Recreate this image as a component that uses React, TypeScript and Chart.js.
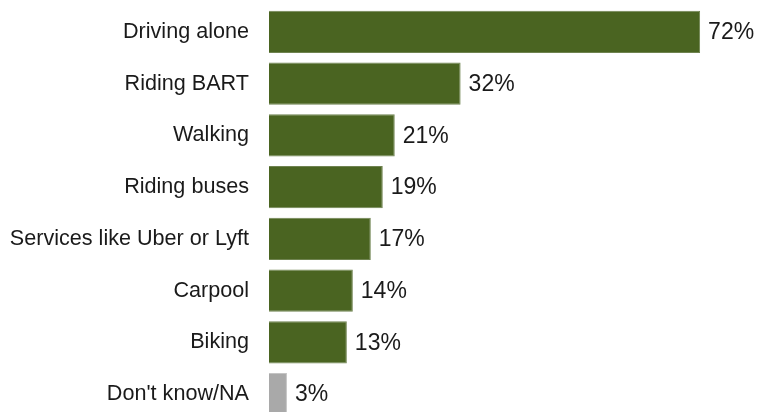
import React, { useEffect, useRef } from "react";
import { Chart, registerables } from "chart.js";

Chart.register(...registerables);

const categories = [
  "Driving alone",
  "Riding BART",
  "Walking",
  "Riding buses",
  "Services like Uber or Lyft",
  "Carpool",
  "Biking",
  "Don't know/NA",
];
const values = [72, 32, 21, 19, 17, 14, 13, 3];
const neutralCategories = ["Don't know/NA"];

const GREEN = "#4a6421";
const GRAY = "#a9a9a9";
const TEXT = "#1a1a1a";
const FONT = "'Liberation Sans', Arial, Helvetica, sans-serif";

const valueLabels = {
  id: "valueLabels",
  afterDatasetsDraw(chart: any) {
    const ctx = chart.ctx;
    const meta = chart.getDatasetMeta(0);
    ctx.save();
    ctx.font = `23px ${FONT}`;
    ctx.fillStyle = TEXT;
    ctx.textAlign = "left";
    ctx.textBaseline = "middle";
    meta.data.forEach((bar: any, i: number) => {
      ctx.fillText(`${values[i]}%`, bar.x + 8, bar.y + 1);
    });
    ctx.restore();
  },
};

export default function App() {
  const ref = useRef<HTMLCanvasElement | null>(null);
  useEffect(() => {
    if (!ref.current) return;
    const colors = categories.map((c) =>
      neutralCategories.includes(c) ? GRAY : GREEN
    );
    const chart = new Chart(ref.current, {
      type: "bar",
      data: {
        labels: categories,
        datasets: [
          {
            data: values,
            backgroundColor: colors,
            borderColor: colors.map((c) => (c === GREEN ? "#6f8350" : "#c4c4c4")),
            borderWidth: 1,
            barPercentage: 0.82,
            categoryPercentage: 1,
          },
        ],
      },
      options: {
        indexAxis: "y",
        animation: false,
        responsive: false,
        maintainAspectRatio: false,
        layout: { padding: { top: 6, bottom: 1, left: 0, right: 0 } },
        plugins: {
          legend: { display: false },
          tooltip: { enabled: false },
        },
        scales: {
          x: {
            display: false,
            min: 0,
            max: 81.5,
          },
          y: {
            grid: { display: false, drawTicks: false },
            border: { display: false },
            ticks: {
              color: TEXT,
              font: { family: FONT, size: 21.6 },
              padding: 20,
            },
            afterFit: (scale: any) => {
              scale.width = 269;
              scale.paddingTop = 0;
              scale.paddingBottom = 0;
            },
          },
        },
      },
      plugins: [valueLabels],
    });
    return () => chart.destroy();
  }, []);
  return (
    <div style={{ position: "absolute", left: 0, top: 0, width: 757, height: 421, background: "#fff" }}>
      <canvas ref={ref} width={757} height={421} style={{ display: "block" }} />
    </div>
  );
}
